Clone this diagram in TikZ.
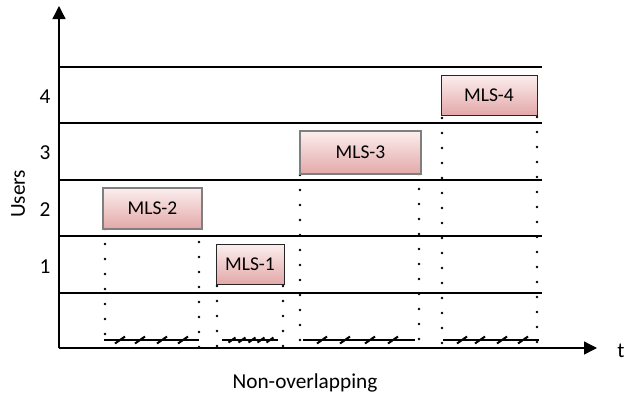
\documentclass[tikz,border=0pt]{standalone}
\usepackage{fontspec}
\setmainfont{Carlito}
\usetikzlibrary{arrows.meta}
\definecolor{pinktop}{HTML}{FCEEEE}
\definecolor{pinkbot}{HTML}{E3A8A8}
\definecolor{boxgray}{HTML}{7F7F7F}
\begin{document}
\begin{tikzpicture}[x=1pt,y=-1pt,
  lbl/.style={font=\fontsize{21.3}{25}\selectfont, inner sep=0pt},
  mlsbox/.style={rectangle, top color=pinktop, bottom color=pinkbot, inner sep=0pt,
    font=\fontsize{19.5}{23}\selectfont},
  thickbox/.style={mlsbox, draw=boxgray, line width=2.2pt},
  thinbox/.style={mlsbox, draw=black!85, line width=1pt},
  gridline/.style={line width=1.4pt},
  axisline/.style={line width=1.4pt, -{Triangle[length=13pt,width=13pt]}},
  dotline/.style={line width=2.6pt, line cap=round, dash pattern=on 0pt off 15pt},
  hatch/.style={line width=2pt},
  slash/.style={line width=2pt}
]
\useasboundingbox (0,0) rectangle (624,397);
\coordinate (o) at (59,348);
\coordinate (ytop) at (59,6);
\coordinate (xend) at (597,348);
% grid lines
\foreach \yy in {67,123,180,236,293}
  \draw[gridline] (59,\yy) -- (542,\yy);
% axes
\draw[axisline] (o) -- (ytop);
\draw[axisline] (o) -- (xend);
% labels
\node[lbl] (l4) at (45,97) {4};
\node[lbl] (l3) at (45,153) {3};
\node[lbl] (l2) at (45,210) {2};
\node[lbl] (l1) at (45,267) {1};
\node[lbl, rotate=90] (users) at (18,194) {Users};
\node[lbl] (t) at (621,351) {t};
\node[lbl] (cap) at (305,383) {Non-overlapping};
% dotted lines (drawn first)
\coordinate (d2l) at (105,229); \coordinate (d2r) at (199,227);
\coordinate (d1l) at (217,286); \coordinate (d1r) at (283,286);
\coordinate (d3l) at (300,175); \coordinate (d3r) at (419,174);
\coordinate (d4l) at (442,118); \coordinate (d4r) at (537,117);
\foreach \c in {d2l,d2r,d1l,d1r,d3l,d3r,d4l,d4r}
  \draw[dotline] (\c) -- (\c |- o);
% boxes
\node[thickbox, minimum width=99pt, minimum height=41pt] (mls2) at (152.5,208.5) {MLS-2};
\node[thinbox, minimum width=68pt, minimum height=40pt] (mls1) at (250,264) {MLS-1};
\node[thickbox, minimum width=121pt, minimum height=43pt] (mls3) at (360.5,152.5) {MLS-3};
\node[thinbox, minimum width=96pt, minimum height=40pt] (mls4) at (489,95) {MLS-4};
% hatched segments
\draw[hatch] (104,340) -- (199,340);
\foreach \xx in {120,140,162,183}
  \draw[slash] (\xx-5,343.5) -- (\xx+5,336.5);
\draw[hatch] (222,340) -- (278,340);
\foreach \xx in {232,242,252,261,270}
  \draw[slash] (\xx-3.5,342.5) -- (\xx+3.5,337.5);
\draw[hatch] (303,340) -- (415,340);
\foreach \xx in {322,345,370,393}
  \draw[slash] (\xx-5,343.5) -- (\xx+5,336.5);
\draw[hatch] (443,340) -- (539,340);
\foreach \xx in {462,480,502,523}
  \draw[slash] (\xx-5,343.5) -- (\xx+5,336.5);
\end{tikzpicture}
\end{document}
